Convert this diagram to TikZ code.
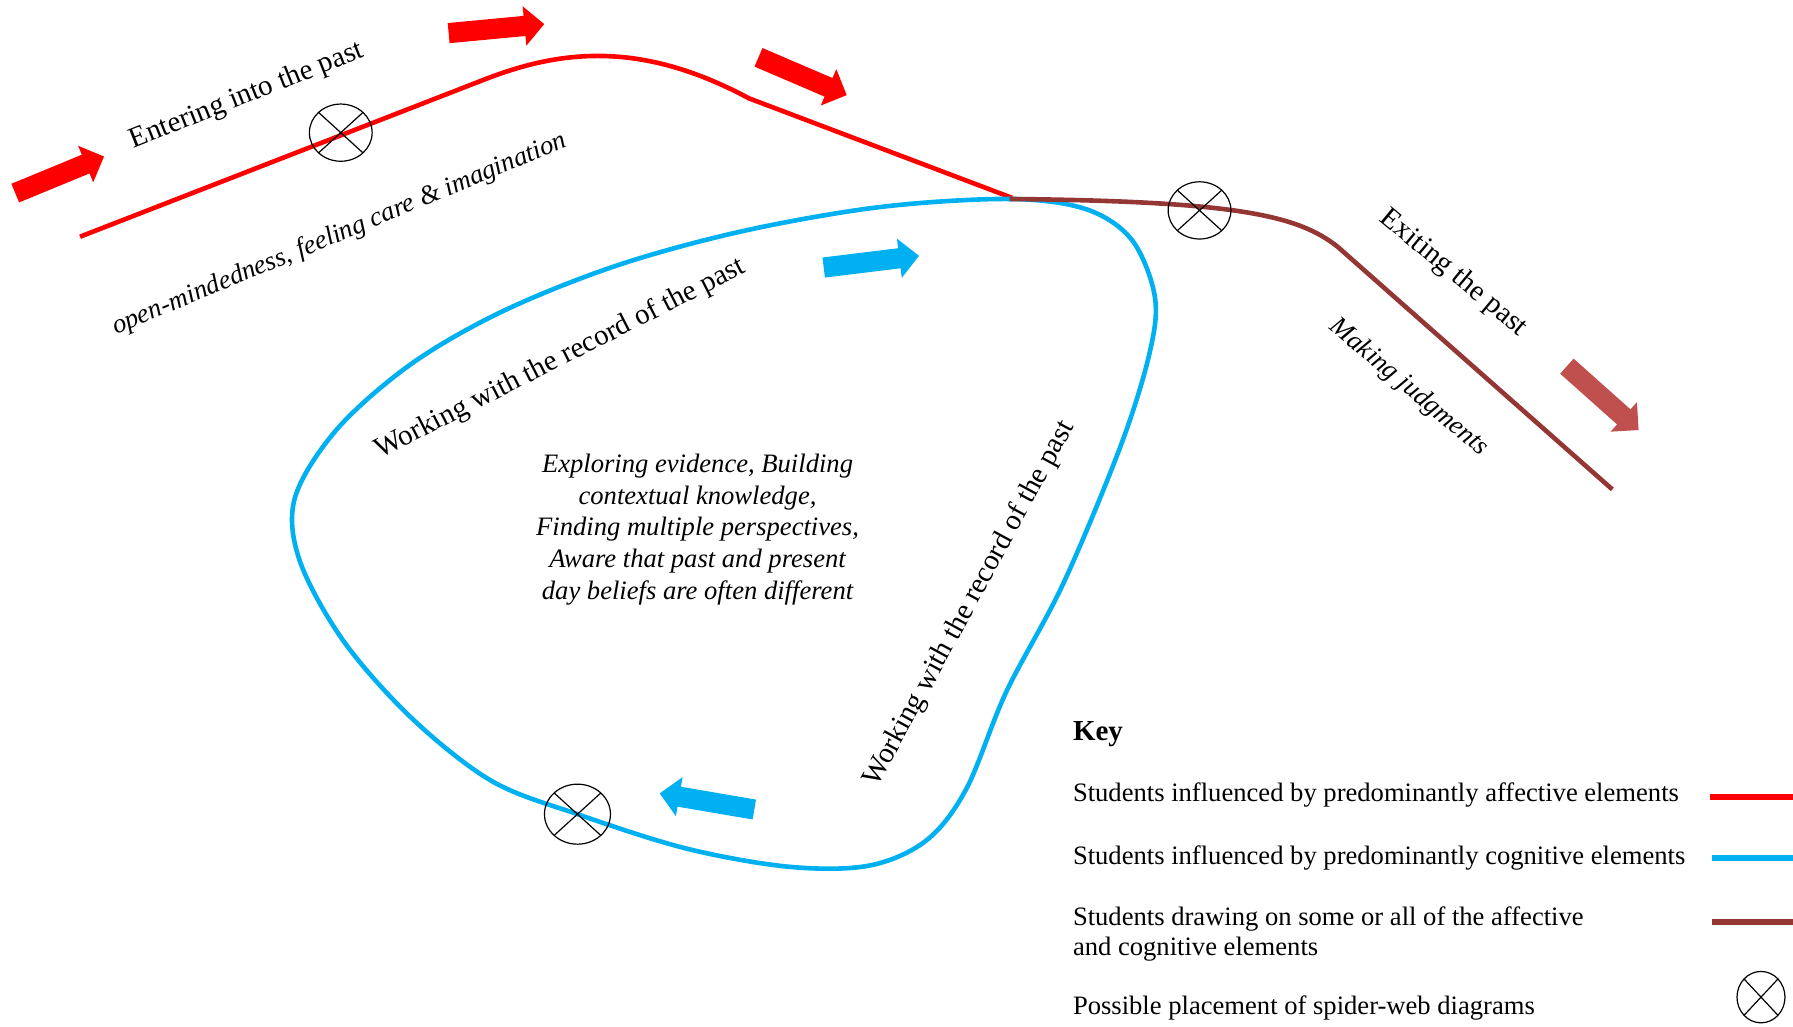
\documentclass[tikz,border=0pt]{standalone}
\usepackage{fontspec}
\setmainfont{Liberation Serif}
\usetikzlibrary{shapes.arrows,shapes.geometric,positioning}
\definecolor{affred}{RGB}{255,0,0}
\definecolor{cogblue}{RGB}{0,176,240}
\definecolor{bothbrown}{RGB}{148,54,52}
\definecolor{exitred}{RGB}{192,80,77}

\tikzset{
  fatarrow/.style={single arrow, draw=none, fill=#1, anchor=tail, inner xsep=0pt, inner ysep=4.85pt,
    minimum height=48pt, single arrow head extend=4.85pt},
  spider/.style 2 args={ellipse, draw, line width=0.6pt, inner sep=0pt,
    minimum width=#1, minimum height=#2,
    path picture={\draw[line width=0.6pt]
      (path picture bounding box.north west) -- (path picture bounding box.south east)
      (path picture bounding box.north east) -- (path picture bounding box.south west);}},
  route/.style={#1, line width=2.3pt},
  pathlabel/.style={font=\fontsize{14.5}{17}\selectfont, inner sep=0pt},
  slantlabel/.style={font=\fontsize{13.4}{16}\selectfont\itshape, inner sep=0pt},
  keytext/.style={font=\fontsize{13.3}{15.4}\selectfont, anchor=base west, inner sep=0pt, align=left}
}

\begin{document}
\begin{tikzpicture}[x=0.5718pt, y=-0.5718pt]
    \useasboundingbox (0,0) rectangle (1568,898);

    % Affective route (red)
    \draw[route=affred] (70,207) -- (425,69) .. controls (490,44) and (560,35) .. (655,86) -- (885,173);

    % Cognitive loop (blue)
    \draw[route=cogblue] plot[smooth cycle, tension=0.55] coordinates {
        (883,174) (770,181) (650,202) (540,232) (440,272) (360,318) (295,375) (258,435)
        (262,490) (300,560) (360,628) (430,683) (505,712) (600,742) (690,758) (760,757)
        (810,735) (845,690) (880,605) (930,510) (980,390) (1005,310) (1010,260) (990,210) (950,183)};

    % Exit route (brown)
    \draw[route=bothbrown] (883,174) .. controls (1080,176) and (1135,188) .. (1170,216) -- (1410,428);

    % Spider-web placements
    \node[spider={31.4pt}{28.6pt}] (web1) at (298,116) {};
    \node[spider={31.4pt}{28.6pt}] (web2) at (1049,184) {};
    \node[spider={33pt}{30pt}] (web3) at (505,712) {};

    % Direction arrows
    \node[fatarrow=affred, rotate=22.4] (arr1) at (13,169) {};
    \node[fatarrow=affred, rotate=5.4] (arr2) at (392,29) {};
    \node[fatarrow=affred, rotate=-23.2] (arr3) at (663,50) {};
    \node[fatarrow=cogblue, rotate=7] (arr4) at (720,234) {};
    \node[fatarrow=cogblue, rotate=170.3] (arr5) at (660,708) {};
    \node[fatarrow=exitred, rotate=-41.7] (arr6) at (1370,320) {};

    % Labels along the routes
    \node[pathlabel, rotate=21.6] (enter) at (216,84) {Entering into the past};
    \node[slantlabel, rotate=22.6] (affect) at (297,205) {open-mindedness, feeling care \& imagination};
    \node[pathlabel, rotate=27] (work1) at (490,314) {Working with the record of the past};
    \node[pathlabel, rotate=61.4] (work2) at (848,528) {Working with the record of the past};
    \node[pathlabel, rotate=-39.6] (exit) at (1271,239) {Exiting the past};
    \node[slantlabel, rotate=-40] (judge) at (1232,339) {Making judgments};
    \node[font=\fontsize{13.3}{15.9}\selectfont\itshape, align=center, inner sep=0pt] (cogtext) at (610,463)
        {Exploring evidence, Building\\contextual knowledge,\\Finding multiple perspectives,\\Aware that past and present\\day beliefs are often different};

    % Key
    \node[keytext, font=\fontsize{14.5}{17}\selectfont\bfseries] (key) at (938,648) {Key};
    \node[keytext] (key1) at (938,701) {Students influenced by predominantly affective elements};
    \node[keytext] (key2) at (938,756) {Students influenced by predominantly cognitive elements};
    \node[keytext] (key3) at (938,836) {Students drawing on some or all of the affective\\and cognitive elements};
    \node[keytext] (key4) at (938,887) {Possible placement of spider-web diagrams};
    \draw[affred, line width=3pt] (1495,697) -- (1568,697);
    \draw[cogblue, line width=3pt] (1497,750) -- (1568,750);
    \draw[bothbrown, line width=3pt] (1497,806) -- (1568,806);
    \node[spider={24pt}{25.7pt}] (webkey) at (1540,872) {};

\end{tikzpicture}
\end{document}
